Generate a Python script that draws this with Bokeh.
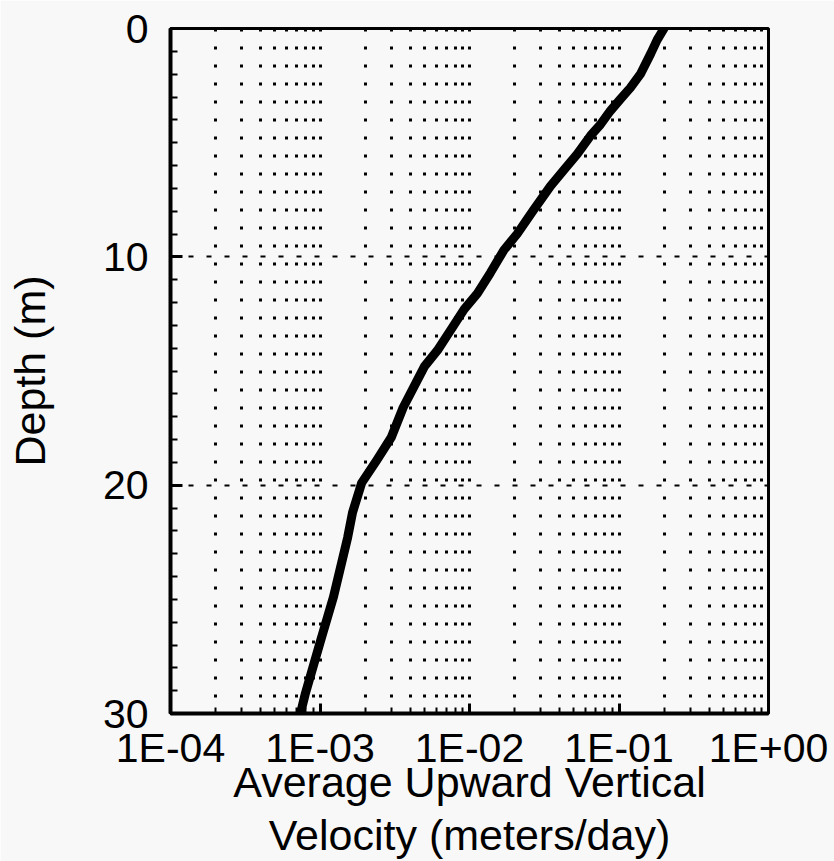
from bokeh.plotting import figure
from bokeh.models import Range1d, FixedTicker, CustomJSTickFormatter, ColumnDataSource
from bokeh.embed import file_html
from bokeh.resources import INLINE

# ---- data ----
depth_m = [0.0, 0.5, 1.1, 2.0, 2.6, 3.1, 3.6, 4.2, 4.7, 5.5, 6.2, 6.9, 8.0, 9.0,
           9.7, 10.7, 11.6, 12.3, 13.2, 14.1, 14.8, 15.5, 16.6, 17.9, 18.9, 19.9,
           21.2, 22.3, 24.9, 26.8, 29.1, 30.0]
velocity_m_per_day = [0.200, 0.180, 0.163, 0.139, 0.119, 0.102, 0.0877, 0.0752,
                      0.0644, 0.0525, 0.0427, 0.0348, 0.0265, 0.0208, 0.0170,
                      0.0138, 0.0113, 0.0092, 0.0075, 0.0061, 0.0050, 0.0044,
                      0.0036, 0.0030, 0.0024, 0.0019, 0.00165, 0.00153, 0.00123,
                      0.00101, 0.00080, 0.00074]

x_tick_values = [1e-4, 1e-3, 1e-2, 1e-1, 1.0]
x_tick_labels = ["1E-04", "1E-03", "1E-02", "1E-01", "1E+00"]
y_tick_values = [0, 10, 20, 30]
y_grid_values = [10, 20]
x_axis_title = "Average Upward Vertical\nVelocity (meters/day)"
y_axis_title = "Depth (m)"

FONT = "Liberation Sans"
BG = "#f8f8f8"

x_minor = [m * 10.0 ** e for e in range(-4, 0) for m in range(2, 10)]
x_grid = [m * 10.0 ** e for e in range(-4, 0) for m in range(2, 11)]

p = figure(frame_width=598, frame_height=685,
           x_axis_type="log", x_range=Range1d(1e-4, 1.0), y_range=Range1d(30, 0),
           output_backend="svg", toolbar_location=None,
           min_border_left=170, min_border_right=66, min_border_top=28,
           min_border_bottom=5,
           background_fill_color=BG, border_fill_color=BG)

src = ColumnDataSource(dict(v=velocity_m_per_day, d=depth_m))
p.line("v", "d", source=src, line_width=9, line_color="black",
       line_join="round", line_cap="round")

# axes
p.xaxis.ticker = FixedTicker(ticks=x_tick_values, minor_ticks=x_minor)
p.xaxis.formatter = CustomJSTickFormatter(
    args=dict(vals=x_tick_values, labs=x_tick_labels),
    code="""
const i = vals.findIndex(v => Math.abs(Math.log10(v) - Math.log10(tick)) < 1e-6);
return i >= 0 ? labs[i] : '';
""")
p.yaxis.ticker = FixedTicker(ticks=y_tick_values, minor_ticks=list(range(0, 31)))

p.xaxis.axis_label = x_axis_title
p.yaxis.axis_label = y_axis_title

for ax in (p.xaxis[0], p.yaxis[0]):
    ax.axis_line_width = 4
    ax.axis_line_color = "black"
    ax.major_tick_line_width = 3
    ax.minor_tick_line_width = 2
    ax.major_tick_out = 0
    ax.minor_tick_out = 0
    ax.major_label_text_font = FONT
    ax.major_label_text_font_size = "41px"
    ax.major_label_text_color = "black"
    ax.axis_label_text_font = FONT
    ax.axis_label_text_font_size = "43px"
    ax.axis_label_text_font_style = "normal"
    ax.axis_label_text_color = "black"

p.xaxis.major_tick_in = 10
p.xaxis.minor_tick_in = 6
p.yaxis.major_tick_in = 12
p.yaxis.minor_tick_in = 7
p.xaxis.major_label_standoff = 11
p.xaxis.axis_label_standoff = -16
p.xaxis.axis_label_text_line_height = 1.12
p.yaxis.major_label_standoff = 22
p.yaxis.axis_label_standoff = 46

# grids
p.xgrid.ticker = FixedTicker(ticks=x_grid)
p.xgrid.grid_line_color = "black"
p.xgrid.grid_line_width = 3
p.xgrid.grid_line_dash = "3 15"
p.ygrid.ticker = FixedTicker(ticks=y_grid_values)
p.ygrid.grid_line_color = "black"
p.ygrid.grid_line_width = 2
p.ygrid.grid_line_dash = "5 13"

p.outline_line_color = "black"
p.outline_line_width = 3

open("out.html", "w").write(file_html(p, INLINE))
